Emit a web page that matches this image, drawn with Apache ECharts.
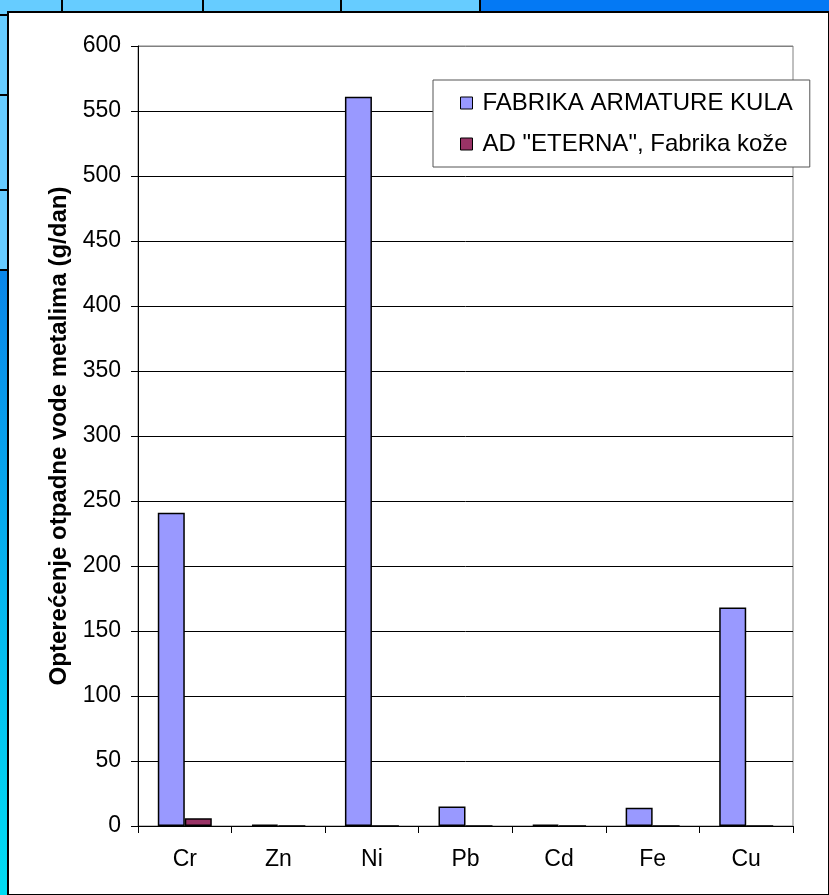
<!DOCTYPE html>
<html>
<head>
<meta charset="utf-8">
<script src="https://cdn.jsdelivr.net/npm/echarts@6/dist/echarts.min.js"></script>
<style>
  html, body { margin: 0; padding: 0; background: #fff; }
  #chart { width: 829px; height: 895px; }
</style>
</head>
<body>
<div id="chart"></div>
<script>
// Heavy-metal load in plant effluent, grams per day
const metals = ['Cr', 'Zn', 'Ni', 'Pb', 'Cd', 'Fe', 'Cu'];
const seriesNames = ['FABRIKA ARMATURE KULA', 'AD "ETERNA", Fabrika kože'];
const armatureKula = [241, 1, 561, 15, 1, 14, 168];
const eternaKoza = [6, 0, 0, 0, 0, 0, 0];
const yTicks = [0, 50, 100, 150, 200, 250, 300, 350, 400, 450, 500, 550, 600];
const yAxisTitle = 'Opterećenje otpadne vode metalima (g/dan)';

const FONT = '"Liberation Sans", Arial, sans-serif';

const chart = echarts.init(document.getElementById('chart'), null, { renderer: 'canvas' });

// Slide frame around the chart: table cells on top and left, blue fill
const frame = [
  { type: 'rect', shape: { x: 0, y: 0, width: 829, height: 895 }, style: { fill: '#ffffff' }, z: -10 },
  { type: 'rect', shape: { x: 0, y: 270, width: 9, height: 625 },
    style: { fill: new echarts.graphic.LinearGradient(0, 0, 0, 1, [
      { offset: 0, color: '#0a86e8' }, { offset: 0.5, color: '#05b4ee' }, { offset: 1, color: '#00dcf2' }]) }, z: -9 },
  { type: 'rect', shape: { x: 0, y: 0, width: 9, height: 270 }, style: { fill: '#66ccff' }, z: -9 },
  { type: 'rect', shape: { x: 0, y: 0, width: 480, height: 13 }, style: { fill: '#66ccff' }, z: -9 },
  { type: 'rect', shape: { x: 480, y: 0, width: 349, height: 13 }, style: { fill: '#0479f4' }, z: -9 },
  ...[15, 95, 190, 270].map(y => ({ type: 'rect', shape: { x: 0, y: y - 1, width: 9, height: 2 }, style: { fill: '#000' }, z: -8 })),
  ...[62, 203, 341, 480].map(x => ({ type: 'rect', shape: { x: x - 1, y: 0, width: 2, height: 13 }, style: { fill: '#000' }, z: -8 })),
  { type: 'rect', shape: { x: 8, y: 12, width: 821, height: 883 }, style: { fill: '#ffffff', stroke: '#000', lineWidth: 2 }, z: -7 }
];

// gridlines are black, the top one blends into the grey plot border
const splitColors = yTicks.map((v, i) => (i === yTicks.length - 1 ? '#808080' : '#000'));

chart.setOption({
  animation: false,
  backgroundColor: 'transparent',
  textStyle: { fontFamily: FONT, color: '#000' },
  graphic: frame,
  grid: {
    left: 138, top: 46, right: 36, bottom: 69,
    show: true, borderColor: '#808080', borderWidth: 1, backgroundColor: 'transparent'
  },
  legend: {
    orient: 'vertical',
    left: 433, top: 80,
    data: seriesNames,
    backgroundColor: '#fff',
    borderColor: '#555', borderWidth: 1,
    padding: [11, 17, 11, 27],
    itemGap: 17,
    itemWidth: 12, itemHeight: 12,
    icon: 'rect',
    itemStyle: { borderColor: '#000', borderWidth: 1 },
    textStyle: { fontFamily: FONT, fontSize: 24, color: '#000', lineHeight: 24, padding: [0, 0, 0, 5] },
    z: 10
  },
  xAxis: {
    type: 'category',
    data: metals,
    axisLine: { lineStyle: { color: '#000', width: 1 } },
    axisTick: { show: true, length: 7, lineStyle: { color: '#000' } },
    axisLabel: { fontFamily: FONT, fontSize: 23, color: '#000', margin: 22 }
  },
  yAxis: {
    type: 'value',
    min: yTicks[0], max: yTicks[yTicks.length - 1], interval: yTicks[1] - yTicks[0],
    name: yAxisTitle,
    nameLocation: 'middle',
    nameRotate: 90,
    nameGap: 64,
    nameTextStyle: { fontFamily: FONT, fontSize: 24, fontWeight: 'bold', color: '#000' },
    axisLine: { show: true, lineStyle: { color: '#000', width: 1 } },
    axisTick: { show: true, length: 7, lineStyle: { color: '#000' } },
    axisLabel: { fontFamily: FONT, fontSize: 23, color: '#000', margin: 17 },
    splitLine: { show: true, lineStyle: { color: splitColors, width: 1 } }
  },
  series: [
    {
      name: seriesNames[0], type: 'bar', data: armatureKula,
      barWidth: 27, barGap: '0%',
      itemStyle: { color: '#9999ff', borderColor: '#000', borderWidth: 1.5 }
    },
    {
      name: seriesNames[1], type: 'bar', data: eternaKoza,
      barWidth: 27, barGap: '0%',
      itemStyle: { color: '#993366', borderColor: '#000', borderWidth: 1.5 }
    }
  ]
});
</script>
</body>
</html>
